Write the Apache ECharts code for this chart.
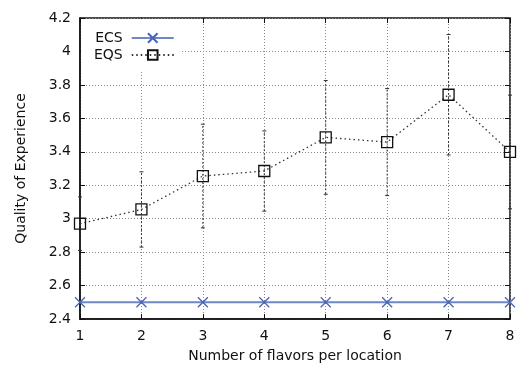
<!DOCTYPE html>
<html><head><meta charset="utf-8">
<script src="https://cdn.jsdelivr.net/npm/echarts@6/dist/echarts.min.js"></script>
<style>html,body{margin:0;padding:0;background:#fff}#c{width:519px;height:368px}</style>
</head><body><div id="c"></div>
<script>
var categories = [1, 2, 3, 4, 5, 6, 7, 8];
var ecsValues = [2.5, 2.5, 2.5, 2.5, 2.5, 2.5, 2.5, 2.5];
var eqsValues = [2.97, 3.055, 3.255, 3.285, 3.486, 3.458, 3.741, 3.399];
var eqsErrors = [0.16, 0.225, 0.31, 0.24, 0.34, 0.32, 0.36, 0.34];
var yTicks = [2.4, 2.6, 2.8, 3, 3.2, 3.4, 3.6, 3.8, 4, 4.2];

var font = 'DejaVu Sans';
var fs = 14;
var chart = echarts.init(document.getElementById('c'));
var ecsData = categories.map(function (c, i) { return [c, ecsValues[i]]; });
var eqsData = categories.map(function (c, i) { return [c, eqsValues[i]]; });
var errData = categories.map(function (c, i) { return [c, eqsValues[i] - eqsErrors[i], eqsValues[i] + eqsErrors[i]]; });

var gridLine = { show: true, lineStyle: { color: '#888', width: 1, type: [1, 2] } };
chart.setOption({
  animation: false,
  grid: { left: 80, right: 9, top: 18, bottom: 45, show: true, borderColor: '#111', borderWidth: 1.5, backgroundColor: 'transparent' },
  legend: {
    orient: 'vertical', left: 81, top: 19, align: 'right',
    backgroundColor: '#fff', padding: [12, 6, 9, 13],
    itemWidth: 42, itemHeight: 12, itemGap: 3,
    textStyle: { fontFamily: font, fontSize: fs, color: '#111', padding: [0, 4, 0, 0] },
    data: ['ECS', 'EQS']
  },
  xAxis: [{
    type: 'value', min: 1, max: 8, interval: 1, position: 'bottom',
    name: 'Number of flavors per location', nameLocation: 'middle', nameGap: 30,
    nameTextStyle: { fontFamily: font, fontSize: fs, color: '#111' },
    axisLine: { show: true, lineStyle: { color: '#111', width: 1.5 } },
    axisTick: { show: true, inside: true, length: 5, lineStyle: { color: '#111' } },
    axisLabel: { fontFamily: font, fontSize: fs, color: '#111', margin: 10, formatter: function (v) { return String(v); } },
    splitLine: gridLine
  }, {
    type: 'value', min: 1, max: 8, interval: 1, position: 'top',
    axisLine: { show: false },
    axisTick: { show: true, inside: true, length: 5, lineStyle: { color: '#111' } },
    axisLabel: { show: false }, splitLine: { show: false }
  }],
  yAxis: [{
    type: 'value', min: 2.4, max: 4.2, interval: 0.2, position: 'left',
    name: 'Quality of Experience', nameLocation: 'middle', nameGap: 52,
    nameTextStyle: { fontFamily: font, fontSize: fs, color: '#111' },
    axisLine: { show: true, lineStyle: { color: '#111', width: 1.5 } },
    axisTick: { show: true, inside: true, length: 5, lineStyle: { color: '#111' } },
    axisLabel: { fontFamily: font, fontSize: fs, color: '#111', margin: 9,
      formatter: function (v) { var r = Math.round(v * 10) / 10; return yTicks.indexOf(r) >= 0 ? String(r) : ''; } },
    splitLine: gridLine
  }, {
    type: 'value', min: 2.4, max: 4.2, interval: 0.2, position: 'right',
    axisLine: { show: false },
    axisTick: { show: true, inside: true, length: 5, lineStyle: { color: '#111' } },
    axisLabel: { show: false }, splitLine: { show: false }
  }],
  series: [{
    name: 'EQS-err', type: 'custom', xAxisIndex: 0, yAxisIndex: 0, z: 2,
    data: errData,
    renderItem: function (params, api) {
      var lo = api.coord([api.value(0), api.value(1)]);
      var hi = api.coord([api.value(0), api.value(2)]);
      var st = { stroke: '#333', lineWidth: 1, lineDash: [2, 2] };
      return { type: 'group', children: [
        { type: 'line', shape: { x1: lo[0], y1: lo[1], x2: hi[0], y2: hi[1] }, style: st },
        { type: 'line', shape: { x1: lo[0] - 2, y1: lo[1], x2: lo[0] + 2, y2: lo[1] }, style: { stroke: '#333', lineWidth: 1 } },
        { type: 'line', shape: { x1: hi[0] - 2, y1: hi[1], x2: hi[0] + 2, y2: hi[1] }, style: { stroke: '#333', lineWidth: 1 } }
      ] };
    }
  }, {
    name: 'ECS', type: 'line', data: ecsData, z: 3,
    symbol: 'path://M0,0L10,10M10,0L0,10', symbolSize: 10,
    lineStyle: { color: '#7087c6', width: 2 },
    itemStyle: { color: 'rgba(0,0,0,0)', borderColor: '#4a63b8', borderWidth: 1.3 }
  }, {
    name: 'EQS', type: 'line', data: eqsData, z: 4,
    symbol: 'rect', symbolSize: 11,
    lineStyle: { color: '#333', width: 1.3, type: [1.5, 3] },
    itemStyle: { color: 'rgba(255,255,255,0)', borderColor: '#111', borderWidth: 1.3 }
  }]
});
</script></body></html>
